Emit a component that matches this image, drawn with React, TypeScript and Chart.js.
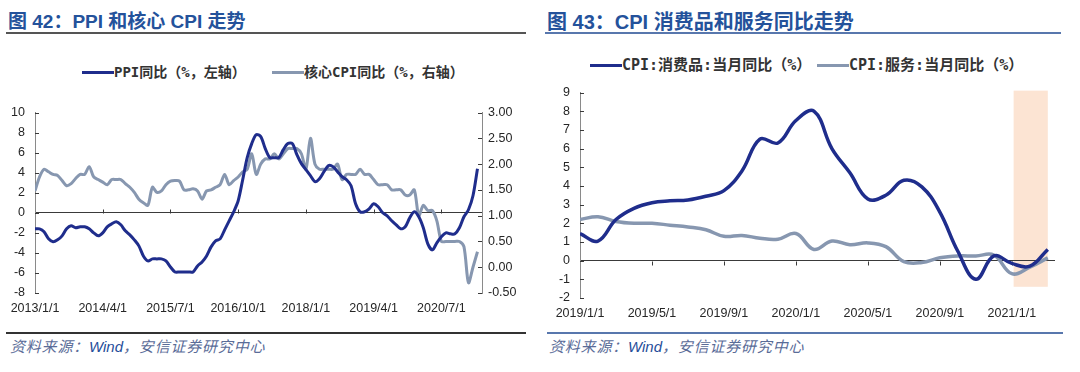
import React, { useEffect, useRef } from 'react';
import { Chart, registerables } from 'chart.js';

Chart.register(...registerables);
Chart.defaults.font.family = '"Liberation Sans", Arial, sans-serif';
Chart.defaults.font.size = 12.5;
Chart.defaults.color = '#262626';

// ---------- Figure 42: PPI and core CPI (monthly, 2013/1 – 2021/3) ----------
const fig42Title = '图 42：PPI 和核心 CPI 走势';
const ppiLabel = 'PPI同比（%，左轴）';
const coreLabel = '核心CPI同比（%，右轴）';
const fig42TickLabels = ['2013/1/1', '2014/4/1', '2015/7/1', '2016/10/1', '2018/1/1', '2019/4/1', '2020/7/1'];
const ppiValues = [
  -1.6, -1.6, -1.9, -2.6, -2.9, -2.7, -2.3, -1.6, -1.3, -1.5, -1.4, -1.4,
  -1.6, -2.0, -2.3, -2.0, -1.4, -1.1, -0.9, -1.2, -1.8, -2.2, -2.7, -3.3,
  -4.3, -4.8, -4.6, -4.6, -4.6, -4.8, -5.4, -5.9, -5.9, -5.9, -5.9, -5.9,
  -5.3, -4.9, -4.3, -3.4, -2.8, -2.6, -1.7, -0.8, 0.1, 1.2, 3.3, 5.5,
  6.9, 7.8, 7.6, 6.4, 5.5, 5.5, 5.5, 6.3, 6.9, 6.9, 5.8, 4.9,
  4.3, 3.7, 3.1, 3.4, 4.1, 4.7, 4.6, 4.1, 3.6, 3.3, 2.7, 0.9,
  0.1, 0.1, 0.4, 0.9, 0.6, 0.0, -0.3, -0.8, -1.2, -1.6, -1.4, -0.5,
  0.1, -0.4, -1.5, -3.1, -3.7, -3.0, -2.4, -2.0, -2.1, -2.1, -1.5, -0.4,
  0.3, 1.7, 4.4,
];
const coreCpiValues = [
  1.48, 1.75, 1.9, 1.85, 1.8, 1.78, 1.68, 1.58, 1.62, 1.72, 1.8, 1.8,
  1.95, 1.75, 1.7, 1.65, 1.6, 1.7, 1.7, 1.7, 1.62, 1.55, 1.45, 1.32,
  1.25, 1.2, 1.55, 1.45, 1.48, 1.6, 1.67, 1.68, 1.67, 1.5, 1.5, 1.52,
  1.48, 1.32, 1.48, 1.5, 1.55, 1.6, 1.8, 1.6, 1.68, 1.75, 1.85, 1.9,
  2.2, 1.8, 2.0, 2.1, 2.1, 2.2, 2.1, 2.2, 2.3, 2.3, 2.3, 2.2,
  1.9, 2.5, 2.0, 1.9, 1.9, 1.9, 1.9, 2.0, 1.7, 1.8, 1.8, 1.8,
  1.9, 1.8, 1.8, 1.7, 1.6, 1.6, 1.6, 1.5, 1.5, 1.5, 1.4, 1.4,
  1.5, 1.0, 1.2, 1.1, 1.1, 0.9, 0.5, 0.5, 0.5, 0.5, 0.5, 0.4,
  -0.3, 0.0, 0.3,
];

// ---------- Figure 43: CPI goods and services (monthly, 2019/1 – 2021/3) ----------
const fig43Title = '图 43：CPI 消费品和服务同比走势';
const goodsLabel = 'CPI:消费品:当月同比（%）';
const servicesLabel = 'CPI:服务:当月同比（%）';
const fig43TickLabels = ['2019/1/1', '2019/5/1', '2019/9/1', '2020/1/1', '2020/5/1', '2020/9/1', '2021/1/1'];
const goodsValues = [
  1.45, 1.05, 2.2, 2.8, 3.1, 3.2, 3.25, 3.45, 3.75, 4.8, 6.5, 6.3,
  7.5, 8.0, 6.0, 4.7, 3.3, 3.5, 4.3, 3.95, 2.6, 0.5, -1.0, 0.25,
  -0.15, -0.3, 0.6,
];
const servicesValues = [
  2.2, 2.35, 2.1, 2.0, 2.0, 1.9, 1.8, 1.65, 1.3, 1.35, 1.2, 1.15,
  1.45, 0.6, 1.05, 0.85, 0.95, 0.75, -0.05, -0.1, 0.15, 0.25, 0.25, 0.3,
  -0.7, -0.35, 0.15,
];
// highlighted period (month index range, value range)
const shadeMonths = [24.1, 26.0];
const shadeValues = [-1.4, 9.1];

const sourceText = ['资料来源：', 'Wind', '，安信证券研究中心'];

// ---------- styles ----------
const NAVY = '#1f2d8c';
const SLATE = '#8797b0';
const TITLE_BLUE = '#24529b';
const AXIS_GRAY = '#8a8a8a';

const toPoints = (vals: number[]) => vals.map((y, x) => ({ x, y }));

function makeMarks(cfg: { yAxes: string[]; zeroAxis: string; xDir: number; band?: any }) {
  return {
    id: 'axisMarks',
    beforeDraw(chart: any) {
      const band = cfg.band;
      if (!band) return;
      const xs = chart.scales.x;
      const ys = chart.scales[cfg.zeroAxis];
      const x0 = xs.getPixelForValue(band.x[0]);
      const x1 = xs.getPixelForValue(band.x[1]);
      const y0 = ys.getPixelForValue(band.y[1]);
      const y1 = ys.getPixelForValue(band.y[0]);
      const ctx = chart.ctx;
      ctx.save();
      ctx.fillStyle = band.color;
      ctx.fillRect(x0, y0, x1 - x0, y1 - y0);
      ctx.restore();
    },
    beforeDatasetsDraw(chart: any) {
      const ctx = chart.ctx;
      const area = chart.chartArea;
      const len = 4;
      ctx.save();
      ctx.lineWidth = 1;
      ctx.beginPath();
      for (const id of cfg.yAxes) {
        const s = chart.scales[id];
        const isLeft = s.position === 'left';
        const x = isLeft ? Math.round(area.left) : Math.round(area.right);
        for (const t of s.ticks) {
          const y = Math.round(s.getPixelForValue(t.value)) + 0.5;
          ctx.moveTo(x, y);
          ctx.lineTo(isLeft ? x + len : x - len, y);
        }
      }
      const xs = chart.scales.x;
      const y0 = Math.round(chart.scales[cfg.zeroAxis].getPixelForValue(0)) + 0.5;
      for (const t of xs.ticks) {
        if (t.value === xs.min) continue;
        const x = Math.round(xs.getPixelForValue(t.value)) + 0.5;
        ctx.moveTo(x, y0);
        ctx.lineTo(x, y0 + cfg.xDir * len);
      }
      ctx.strokeStyle = '#3a3a3a';
      ctx.stroke();
      ctx.restore();
    },
  };
}

const zeroGrid = (c: any) => (c.tick && c.tick.value === 0 ? '#3a3a3a' : 'rgba(0,0,0,0)');

function buildFig42(): any {
  return {
    type: 'line',
    data: {
      datasets: [
        { label: ppiLabel, data: toPoints(ppiValues), yAxisID: 'y', borderColor: NAVY, borderWidth: 3, pointRadius: 0, tension: 0.3, fill: false },
        { label: coreLabel, data: toPoints(coreCpiValues), yAxisID: 'y1', borderColor: SLATE, borderWidth: 3, pointRadius: 0, tension: 0.3, fill: false },
      ],
    },
    options: {
      responsive: false,
      animation: false,
      layout: { padding: { top: 15, left: 0, right: 0, bottom: 0 } },
      plugins: { legend: { display: false }, tooltip: { enabled: false } },
      scales: {
        x: {
          type: 'linear', min: 0, max: 99,
          afterFit: (s: any) => { s.height = 32; },
          grid: { display: false, drawTicks: false },
          border: { display: false },
          ticks: {
            stepSize: 15, autoSkip: false, maxRotation: 0, includeBounds: false, padding: 8.5,
            callback: (v: number) => fig42TickLabels[Math.round(v / 15)] ?? '',
          },
        },
        y: {
          position: 'left', min: -8, max: 10,
          afterFit: (s: any) => { s.width = 35; },
          grid: { drawTicks: false, color: zeroGrid, lineWidth: 1 },
          border: { color: AXIS_GRAY },
          ticks: { stepSize: 2, padding: 10 },
        },
        y1: {
          position: 'right', min: -0.5, max: 3,
          afterFit: (s: any) => { s.width = 58; },
          grid: { display: false, drawTicks: false },
          border: { color: AXIS_GRAY },
          ticks: { stepSize: 0.5, padding: 6, callback: (v: number) => Number(v).toFixed(2) },
        },
      },
    },
    plugins: [makeMarks({ yAxes: ['y', 'y1'], zeroAxis: 'y', xDir: -1 })],
  };
}

function buildFig43(): any {
  return {
    type: 'line',
    data: {
      datasets: [
        { label: goodsLabel, data: toPoints(goodsValues), borderColor: NAVY, borderWidth: 3.5, pointRadius: 0, tension: 0.4, fill: false },
        { label: servicesLabel, data: toPoints(servicesValues), borderColor: SLATE, borderWidth: 3.5, pointRadius: 0, tension: 0.4, fill: false },
      ],
    },
    options: {
      responsive: false,
      animation: false,
      layout: { padding: { top: 12, left: 0, right: 25, bottom: 0 } },
      plugins: { legend: { display: false }, tooltip: { enabled: false } },
      scales: {
        x: {
          type: 'linear', min: 0, max: 26.4,
          afterFit: (s: any) => { s.height = 27; },
          grid: { display: false, drawTicks: false },
          border: { display: false },
          ticks: {
            stepSize: 4, autoSkip: false, maxRotation: 0, includeBounds: false, padding: 8,
            callback: (v: number) => fig43TickLabels[Math.round(v / 4)] ?? '',
          },
        },
        y: {
          position: 'left', min: -2, max: 9,
          afterFit: (s: any) => { s.width = 40; },
          grid: { drawTicks: false, color: zeroGrid, lineWidth: 1 },
          border: { color: AXIS_GRAY },
          ticks: { stepSize: 1, padding: 10 },
        },
      },
    },
    plugins: [makeMarks({
      yAxes: ['y'], zeroAxis: 'y', xDir: 1,
      band: { x: shadeMonths, y: shadeValues, color: '#fce4d3' },
    })],
  };
}

function ChartCanvas({ build, left, top, width, height }: any) {
  const ref = useRef<HTMLCanvasElement>(null);
  useEffect(() => {
    const chart = new Chart(ref.current as HTMLCanvasElement, build());
    return () => chart.destroy();
  }, [build]);
  return (
    <canvas
      ref={ref}
      width={width}
      height={height}
      style={{ position: 'absolute', left, top, width, height, display: 'block' }}
    />
  );
}

function LegendItem({ left, top, color, label, size }: any) {
  return (
    <div style={{ position: 'absolute', left, top, height: 20, display: 'flex', alignItems: 'center', whiteSpace: 'nowrap' }}>
      <span style={{ display: 'inline-block', width: 32, height: 3, background: color }} />
      <span style={{ font: `bold ${size}px "DejaVu Sans Mono", "Noto Sans CJK SC", monospace`, color: '#333', lineHeight: '20px' }}>{label}</span>
    </div>
  );
}

function Title({ left, text, size }: any) {
  return (
    <div style={{
      position: 'absolute', left, top: 6, height: 24, lineHeight: '24px', whiteSpace: 'nowrap',
      font: `bold ${size}px "Liberation Sans", "Noto Sans CJK SC", sans-serif`, color: TITLE_BLUE,
    }}>{text}</div>
  );
}

function Rule({ left, top, width, color }: any) {
  return <div style={{ position: 'absolute', left, top, width, height: 2, background: color }} />;
}

function Source({ left }: any) {
  return (
    <div style={{
      position: 'absolute', left, top: 337, height: 18, lineHeight: '18px', whiteSpace: 'nowrap',
      fontStyle: 'italic', fontSize: 15, letterSpacing: '0.8px', color: '#5a6c98', fontFamily: '"Noto Sans CJK SC", sans-serif',
    }}>
      {sourceText[0]}
      <span style={{ color: '#1f4e9a', fontFamily: '"Liberation Sans", Arial, sans-serif', letterSpacing: 0 }}>{sourceText[1]}</span>
      {sourceText[2]}
    </div>
  );
}

export default function App() {
  return (
    <div style={{ position: 'absolute', left: 0, top: 0, width: 1080, height: 372, background: '#fff', overflow: 'hidden' }}>
      <Title left={8} text={fig42Title} size={19} />
      <Rule left={6} top={32} width={520} color="#555" />
      <LegendItem left={82} top={62} color={NAVY} label={ppiLabel} size={14} />
      <LegendItem left={272} top={62} color={SLATE} label={coreLabel} size={14} />
      <ChartCanvas build={buildFig42} left={0} top={95} width={540} height={230} />
      <Rule left={6} top={332} width={520} color="#333" />
      <Source left={10} />

      <Title left={547} text={fig43Title} size={20} />
      <Rule left={545} top={32} width={516} color="#5877ad" />
      <LegendItem left={590} top={55} color={NAVY} label={goodsLabel} size={15} />
      <LegendItem left={817} top={55} color={SLATE} label={servicesLabel} size={15} />
      <ChartCanvas build={buildFig43} left={540} top={75} width={540} height={250} />
      <Rule left={547} top={332} width={516} color="#5877ad" />
      <Source left={549} />
    </div>
  );
}
